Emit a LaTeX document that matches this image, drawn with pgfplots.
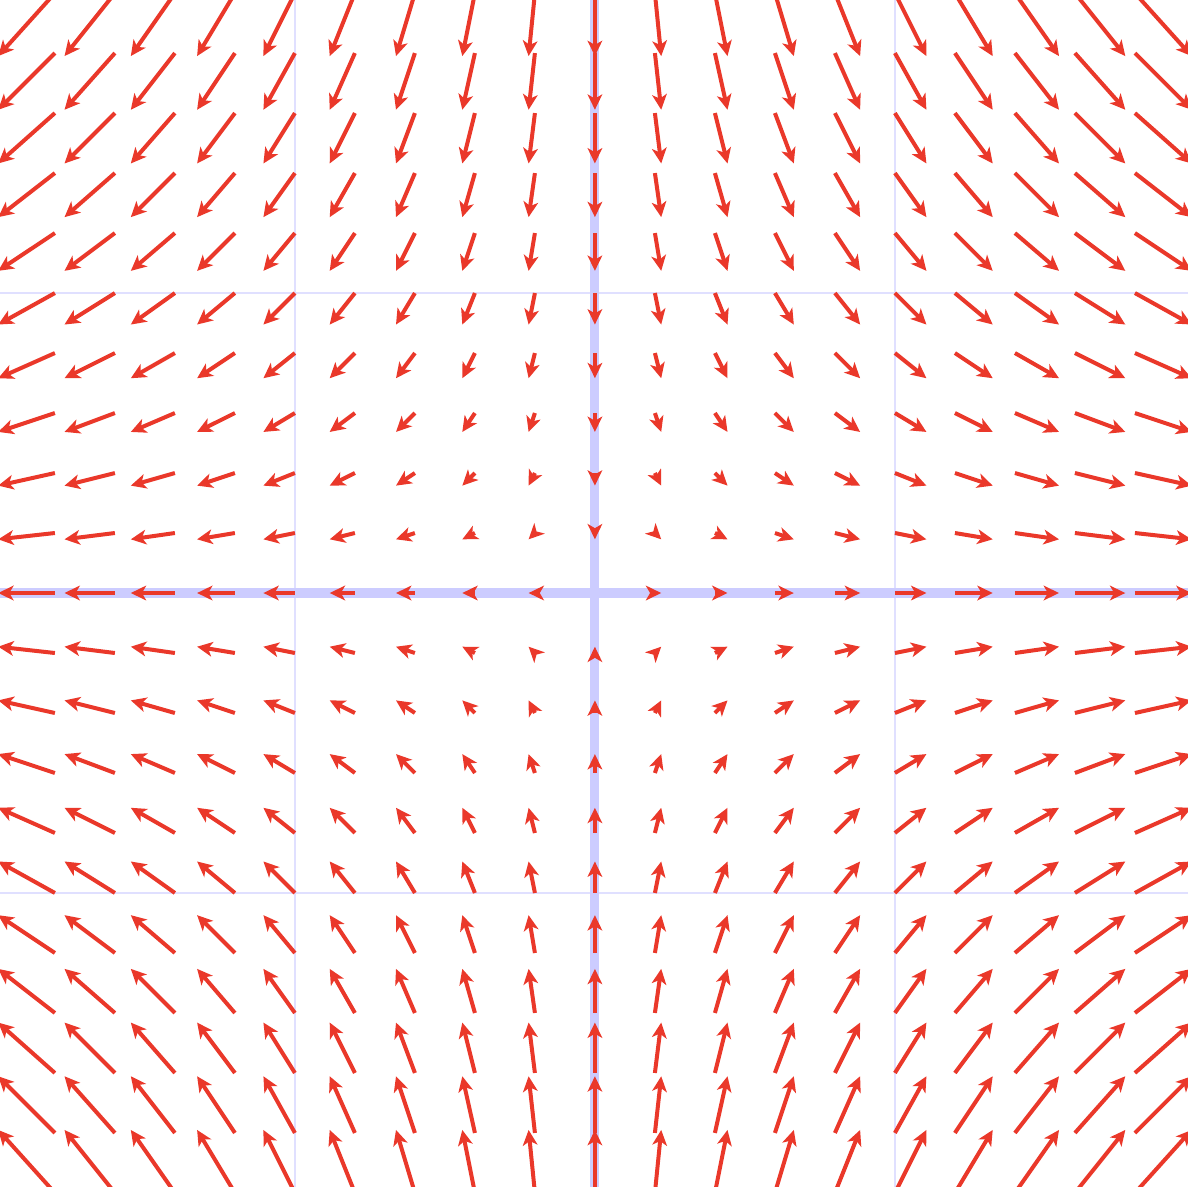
\documentclass[border=0pt]{standalone}
\usepackage{pgfplots}
\pgfplotsset{compat=1.18}
\usetikzlibrary{arrows.meta}
\definecolor{arrowred}{RGB}{234,56,42}
\definecolor{thingrid}{RGB}{224,224,255}
\definecolor{axisblue}{RGB}{204,204,255}
\begin{document}
\begin{tikzpicture}
\begin{axis}[
  scale only axis,
  width=12cm, height=11.98cm,
  xmin=-1.983, xmax=1.977, ymin=-1.977, ymax=1.977,
  xtick=\empty, ytick=\empty,
  axis line style={draw=none},
  clip=true,
]
\draw[thingrid, line width=0.6pt] (axis cs:-1,-3) -- (axis cs:-1,3);
\draw[thingrid, line width=0.6pt] (axis cs:1,-3) -- (axis cs:1,3);
\draw[thingrid, line width=0.6pt] (axis cs:-3,-1) -- (axis cs:3,-1);
\draw[thingrid, line width=0.6pt] (axis cs:-3,1) -- (axis cs:3,1);
\draw[axisblue, line width=2.6pt] (axis cs:0,-3) -- (axis cs:0,3);
\draw[axisblue, line width=2.6pt] (axis cs:-3,0) -- (axis cs:3,0);
\addplot[arrowred, line width=1.15pt, mark=none,
  quiver={u=\thisrow{u}, v=\thisrow{v}, scale arrows=0.105,
    every arrow/.append style={-{Stealth[length=4.4pt,width=4.2pt,inset=1.2pt]}}}]
  table[x=x, y=y, row sep=\\] {
x y u v\\
-2 2 -2 -2\\ -1.8 2 -1.8 -2\\ -1.6 2 -1.6 -2\\ -1.4 2 -1.4 -2\\ -1.2 2 -1.2 -2\\ -1 2 -1 -2\\ -0.8 2 -0.8 -2\\ -0.6 2 -0.6 -2\\ -0.4 2 -0.4 -2\\ -0.2 2 -0.2 -2\\ 0 2 0 -2\\ 0.2 2 0.2 -2\\ 0.4 2 0.4 -2\\ 0.6 2 0.6 -2\\ 0.8 2 0.8 -2\\ 1 2 1 -2\\ 1.2 2 1.2 -2\\ 1.4 2 1.4 -2\\ 1.6 2 1.6 -2\\ 1.8 2 1.8 -2\\ 2 2 2 -2\\
-2 1.8 -2 -1.8\\ -1.8 1.8 -1.8 -1.8\\ -1.6 1.8 -1.6 -1.8\\ -1.4 1.8 -1.4 -1.8\\ -1.2 1.8 -1.2 -1.8\\ -1 1.8 -1 -1.8\\ -0.8 1.8 -0.8 -1.8\\ -0.6 1.8 -0.6 -1.8\\ -0.4 1.8 -0.4 -1.8\\ -0.2 1.8 -0.2 -1.8\\ 0 1.8 0 -1.8\\ 0.2 1.8 0.2 -1.8\\ 0.4 1.8 0.4 -1.8\\ 0.6 1.8 0.6 -1.8\\ 0.8 1.8 0.8 -1.8\\ 1 1.8 1 -1.8\\ 1.2 1.8 1.2 -1.8\\ 1.4 1.8 1.4 -1.8\\ 1.6 1.8 1.6 -1.8\\ 1.8 1.8 1.8 -1.8\\ 2 1.8 2 -1.8\\
-2 1.6 -2 -1.6\\ -1.8 1.6 -1.8 -1.6\\ -1.6 1.6 -1.6 -1.6\\ -1.4 1.6 -1.4 -1.6\\ -1.2 1.6 -1.2 -1.6\\ -1 1.6 -1 -1.6\\ -0.8 1.6 -0.8 -1.6\\ -0.6 1.6 -0.6 -1.6\\ -0.4 1.6 -0.4 -1.6\\ -0.2 1.6 -0.2 -1.6\\ 0 1.6 0 -1.6\\ 0.2 1.6 0.2 -1.6\\ 0.4 1.6 0.4 -1.6\\ 0.6 1.6 0.6 -1.6\\ 0.8 1.6 0.8 -1.6\\ 1 1.6 1 -1.6\\ 1.2 1.6 1.2 -1.6\\ 1.4 1.6 1.4 -1.6\\ 1.6 1.6 1.6 -1.6\\ 1.8 1.6 1.8 -1.6\\ 2 1.6 2 -1.6\\
-2 1.4 -2 -1.4\\ -1.8 1.4 -1.8 -1.4\\ -1.6 1.4 -1.6 -1.4\\ -1.4 1.4 -1.4 -1.4\\ -1.2 1.4 -1.2 -1.4\\ -1 1.4 -1 -1.4\\ -0.8 1.4 -0.8 -1.4\\ -0.6 1.4 -0.6 -1.4\\ -0.4 1.4 -0.4 -1.4\\ -0.2 1.4 -0.2 -1.4\\ 0 1.4 0 -1.4\\ 0.2 1.4 0.2 -1.4\\ 0.4 1.4 0.4 -1.4\\ 0.6 1.4 0.6 -1.4\\ 0.8 1.4 0.8 -1.4\\ 1 1.4 1 -1.4\\ 1.2 1.4 1.2 -1.4\\ 1.4 1.4 1.4 -1.4\\ 1.6 1.4 1.6 -1.4\\ 1.8 1.4 1.8 -1.4\\ 2 1.4 2 -1.4\\
-2 1.2 -2 -1.2\\ -1.8 1.2 -1.8 -1.2\\ -1.6 1.2 -1.6 -1.2\\ -1.4 1.2 -1.4 -1.2\\ -1.2 1.2 -1.2 -1.2\\ -1 1.2 -1 -1.2\\ -0.8 1.2 -0.8 -1.2\\ -0.6 1.2 -0.6 -1.2\\ -0.4 1.2 -0.4 -1.2\\ -0.2 1.2 -0.2 -1.2\\ 0 1.2 0 -1.2\\ 0.2 1.2 0.2 -1.2\\ 0.4 1.2 0.4 -1.2\\ 0.6 1.2 0.6 -1.2\\ 0.8 1.2 0.8 -1.2\\ 1 1.2 1 -1.2\\ 1.2 1.2 1.2 -1.2\\ 1.4 1.2 1.4 -1.2\\ 1.6 1.2 1.6 -1.2\\ 1.8 1.2 1.8 -1.2\\ 2 1.2 2 -1.2\\
-2 1 -2 -1\\ -1.8 1 -1.8 -1\\ -1.6 1 -1.6 -1\\ -1.4 1 -1.4 -1\\ -1.2 1 -1.2 -1\\ -1 1 -1 -1\\ -0.8 1 -0.8 -1\\ -0.6 1 -0.6 -1\\ -0.4 1 -0.4 -1\\ -0.2 1 -0.2 -1\\ 0 1 0 -1\\ 0.2 1 0.2 -1\\ 0.4 1 0.4 -1\\ 0.6 1 0.6 -1\\ 0.8 1 0.8 -1\\ 1 1 1 -1\\ 1.2 1 1.2 -1\\ 1.4 1 1.4 -1\\ 1.6 1 1.6 -1\\ 1.8 1 1.8 -1\\ 2 1 2 -1\\
-2 0.8 -2 -0.8\\ -1.8 0.8 -1.8 -0.8\\ -1.6 0.8 -1.6 -0.8\\ -1.4 0.8 -1.4 -0.8\\ -1.2 0.8 -1.2 -0.8\\ -1 0.8 -1 -0.8\\ -0.8 0.8 -0.8 -0.8\\ -0.6 0.8 -0.6 -0.8\\ -0.4 0.8 -0.4 -0.8\\ -0.2 0.8 -0.2 -0.8\\ 0 0.8 0 -0.8\\ 0.2 0.8 0.2 -0.8\\ 0.4 0.8 0.4 -0.8\\ 0.6 0.8 0.6 -0.8\\ 0.8 0.8 0.8 -0.8\\ 1 0.8 1 -0.8\\ 1.2 0.8 1.2 -0.8\\ 1.4 0.8 1.4 -0.8\\ 1.6 0.8 1.6 -0.8\\ 1.8 0.8 1.8 -0.8\\ 2 0.8 2 -0.8\\
-2 0.6 -2 -0.6\\ -1.8 0.6 -1.8 -0.6\\ -1.6 0.6 -1.6 -0.6\\ -1.4 0.6 -1.4 -0.6\\ -1.2 0.6 -1.2 -0.6\\ -1 0.6 -1 -0.6\\ -0.8 0.6 -0.8 -0.6\\ -0.6 0.6 -0.6 -0.6\\ -0.4 0.6 -0.4 -0.6\\ -0.2 0.6 -0.2 -0.6\\ 0 0.6 0 -0.6\\ 0.2 0.6 0.2 -0.6\\ 0.4 0.6 0.4 -0.6\\ 0.6 0.6 0.6 -0.6\\ 0.8 0.6 0.8 -0.6\\ 1 0.6 1 -0.6\\ 1.2 0.6 1.2 -0.6\\ 1.4 0.6 1.4 -0.6\\ 1.6 0.6 1.6 -0.6\\ 1.8 0.6 1.8 -0.6\\ 2 0.6 2 -0.6\\
-2 0.4 -2 -0.4\\ -1.8 0.4 -1.8 -0.4\\ -1.6 0.4 -1.6 -0.4\\ -1.4 0.4 -1.4 -0.4\\ -1.2 0.4 -1.2 -0.4\\ -1 0.4 -1 -0.4\\ -0.8 0.4 -0.8 -0.4\\ -0.6 0.4 -0.6 -0.4\\ -0.4 0.4 -0.4 -0.4\\ -0.2 0.4 -0.2 -0.4\\ 0 0.4 0 -0.4\\ 0.2 0.4 0.2 -0.4\\ 0.4 0.4 0.4 -0.4\\ 0.6 0.4 0.6 -0.4\\ 0.8 0.4 0.8 -0.4\\ 1 0.4 1 -0.4\\ 1.2 0.4 1.2 -0.4\\ 1.4 0.4 1.4 -0.4\\ 1.6 0.4 1.6 -0.4\\ 1.8 0.4 1.8 -0.4\\ 2 0.4 2 -0.4\\
-2 0.2 -2 -0.2\\ -1.8 0.2 -1.8 -0.2\\ -1.6 0.2 -1.6 -0.2\\ -1.4 0.2 -1.4 -0.2\\ -1.2 0.2 -1.2 -0.2\\ -1 0.2 -1 -0.2\\ -0.8 0.2 -0.8 -0.2\\ -0.6 0.2 -0.6 -0.2\\ -0.4 0.2 -0.4 -0.2\\ -0.2 0.2 -0.2 -0.2\\ 0 0.2 0 -0.2\\ 0.2 0.2 0.2 -0.2\\ 0.4 0.2 0.4 -0.2\\ 0.6 0.2 0.6 -0.2\\ 0.8 0.2 0.8 -0.2\\ 1 0.2 1 -0.2\\ 1.2 0.2 1.2 -0.2\\ 1.4 0.2 1.4 -0.2\\ 1.6 0.2 1.6 -0.2\\ 1.8 0.2 1.8 -0.2\\ 2 0.2 2 -0.2\\
-2 0 -2 0\\ -1.8 0 -1.8 0\\ -1.6 0 -1.6 0\\ -1.4 0 -1.4 0\\ -1.2 0 -1.2 0\\ -1 0 -1 0\\ -0.8 0 -0.8 0\\ -0.6 0 -0.6 0\\ -0.4 0 -0.4 0\\ -0.2 0 -0.2 0\\ 0.2 0 0.2 0\\ 0.4 0 0.4 0\\ 0.6 0 0.6 0\\ 0.8 0 0.8 0\\ 1 0 1 0\\ 1.2 0 1.2 0\\ 1.4 0 1.4 0\\ 1.6 0 1.6 0\\ 1.8 0 1.8 0\\ 2 0 2 0\\
-2 -0.2 -2 0.2\\ -1.8 -0.2 -1.8 0.2\\ -1.6 -0.2 -1.6 0.2\\ -1.4 -0.2 -1.4 0.2\\ -1.2 -0.2 -1.2 0.2\\ -1 -0.2 -1 0.2\\ -0.8 -0.2 -0.8 0.2\\ -0.6 -0.2 -0.6 0.2\\ -0.4 -0.2 -0.4 0.2\\ -0.2 -0.2 -0.2 0.2\\ 0 -0.2 0 0.2\\ 0.2 -0.2 0.2 0.2\\ 0.4 -0.2 0.4 0.2\\ 0.6 -0.2 0.6 0.2\\ 0.8 -0.2 0.8 0.2\\ 1 -0.2 1 0.2\\ 1.2 -0.2 1.2 0.2\\ 1.4 -0.2 1.4 0.2\\ 1.6 -0.2 1.6 0.2\\ 1.8 -0.2 1.8 0.2\\ 2 -0.2 2 0.2\\
-2 -0.4 -2 0.4\\ -1.8 -0.4 -1.8 0.4\\ -1.6 -0.4 -1.6 0.4\\ -1.4 -0.4 -1.4 0.4\\ -1.2 -0.4 -1.2 0.4\\ -1 -0.4 -1 0.4\\ -0.8 -0.4 -0.8 0.4\\ -0.6 -0.4 -0.6 0.4\\ -0.4 -0.4 -0.4 0.4\\ -0.2 -0.4 -0.2 0.4\\ 0 -0.4 0 0.4\\ 0.2 -0.4 0.2 0.4\\ 0.4 -0.4 0.4 0.4\\ 0.6 -0.4 0.6 0.4\\ 0.8 -0.4 0.8 0.4\\ 1 -0.4 1 0.4\\ 1.2 -0.4 1.2 0.4\\ 1.4 -0.4 1.4 0.4\\ 1.6 -0.4 1.6 0.4\\ 1.8 -0.4 1.8 0.4\\ 2 -0.4 2 0.4\\
-2 -0.6 -2 0.6\\ -1.8 -0.6 -1.8 0.6\\ -1.6 -0.6 -1.6 0.6\\ -1.4 -0.6 -1.4 0.6\\ -1.2 -0.6 -1.2 0.6\\ -1 -0.6 -1 0.6\\ -0.8 -0.6 -0.8 0.6\\ -0.6 -0.6 -0.6 0.6\\ -0.4 -0.6 -0.4 0.6\\ -0.2 -0.6 -0.2 0.6\\ 0 -0.6 0 0.6\\ 0.2 -0.6 0.2 0.6\\ 0.4 -0.6 0.4 0.6\\ 0.6 -0.6 0.6 0.6\\ 0.8 -0.6 0.8 0.6\\ 1 -0.6 1 0.6\\ 1.2 -0.6 1.2 0.6\\ 1.4 -0.6 1.4 0.6\\ 1.6 -0.6 1.6 0.6\\ 1.8 -0.6 1.8 0.6\\ 2 -0.6 2 0.6\\
-2 -0.8 -2 0.8\\ -1.8 -0.8 -1.8 0.8\\ -1.6 -0.8 -1.6 0.8\\ -1.4 -0.8 -1.4 0.8\\ -1.2 -0.8 -1.2 0.8\\ -1 -0.8 -1 0.8\\ -0.8 -0.8 -0.8 0.8\\ -0.6 -0.8 -0.6 0.8\\ -0.4 -0.8 -0.4 0.8\\ -0.2 -0.8 -0.2 0.8\\ 0 -0.8 0 0.8\\ 0.2 -0.8 0.2 0.8\\ 0.4 -0.8 0.4 0.8\\ 0.6 -0.8 0.6 0.8\\ 0.8 -0.8 0.8 0.8\\ 1 -0.8 1 0.8\\ 1.2 -0.8 1.2 0.8\\ 1.4 -0.8 1.4 0.8\\ 1.6 -0.8 1.6 0.8\\ 1.8 -0.8 1.8 0.8\\ 2 -0.8 2 0.8\\
-2 -1 -2 1\\ -1.8 -1 -1.8 1\\ -1.6 -1 -1.6 1\\ -1.4 -1 -1.4 1\\ -1.2 -1 -1.2 1\\ -1 -1 -1 1\\ -0.8 -1 -0.8 1\\ -0.6 -1 -0.6 1\\ -0.4 -1 -0.4 1\\ -0.2 -1 -0.2 1\\ 0 -1 0 1\\ 0.2 -1 0.2 1\\ 0.4 -1 0.4 1\\ 0.6 -1 0.6 1\\ 0.8 -1 0.8 1\\ 1 -1 1 1\\ 1.2 -1 1.2 1\\ 1.4 -1 1.4 1\\ 1.6 -1 1.6 1\\ 1.8 -1 1.8 1\\ 2 -1 2 1\\
-2 -1.2 -2 1.2\\ -1.8 -1.2 -1.8 1.2\\ -1.6 -1.2 -1.6 1.2\\ -1.4 -1.2 -1.4 1.2\\ -1.2 -1.2 -1.2 1.2\\ -1 -1.2 -1 1.2\\ -0.8 -1.2 -0.8 1.2\\ -0.6 -1.2 -0.6 1.2\\ -0.4 -1.2 -0.4 1.2\\ -0.2 -1.2 -0.2 1.2\\ 0 -1.2 0 1.2\\ 0.2 -1.2 0.2 1.2\\ 0.4 -1.2 0.4 1.2\\ 0.6 -1.2 0.6 1.2\\ 0.8 -1.2 0.8 1.2\\ 1 -1.2 1 1.2\\ 1.2 -1.2 1.2 1.2\\ 1.4 -1.2 1.4 1.2\\ 1.6 -1.2 1.6 1.2\\ 1.8 -1.2 1.8 1.2\\ 2 -1.2 2 1.2\\
-2 -1.4 -2 1.4\\ -1.8 -1.4 -1.8 1.4\\ -1.6 -1.4 -1.6 1.4\\ -1.4 -1.4 -1.4 1.4\\ -1.2 -1.4 -1.2 1.4\\ -1 -1.4 -1 1.4\\ -0.8 -1.4 -0.8 1.4\\ -0.6 -1.4 -0.6 1.4\\ -0.4 -1.4 -0.4 1.4\\ -0.2 -1.4 -0.2 1.4\\ 0 -1.4 0 1.4\\ 0.2 -1.4 0.2 1.4\\ 0.4 -1.4 0.4 1.4\\ 0.6 -1.4 0.6 1.4\\ 0.8 -1.4 0.8 1.4\\ 1 -1.4 1 1.4\\ 1.2 -1.4 1.2 1.4\\ 1.4 -1.4 1.4 1.4\\ 1.6 -1.4 1.6 1.4\\ 1.8 -1.4 1.8 1.4\\ 2 -1.4 2 1.4\\
-2 -1.6 -2 1.6\\ -1.8 -1.6 -1.8 1.6\\ -1.6 -1.6 -1.6 1.6\\ -1.4 -1.6 -1.4 1.6\\ -1.2 -1.6 -1.2 1.6\\ -1 -1.6 -1 1.6\\ -0.8 -1.6 -0.8 1.6\\ -0.6 -1.6 -0.6 1.6\\ -0.4 -1.6 -0.4 1.6\\ -0.2 -1.6 -0.2 1.6\\ 0 -1.6 0 1.6\\ 0.2 -1.6 0.2 1.6\\ 0.4 -1.6 0.4 1.6\\ 0.6 -1.6 0.6 1.6\\ 0.8 -1.6 0.8 1.6\\ 1 -1.6 1 1.6\\ 1.2 -1.6 1.2 1.6\\ 1.4 -1.6 1.4 1.6\\ 1.6 -1.6 1.6 1.6\\ 1.8 -1.6 1.8 1.6\\ 2 -1.6 2 1.6\\
-2 -1.8 -2 1.8\\ -1.8 -1.8 -1.8 1.8\\ -1.6 -1.8 -1.6 1.8\\ -1.4 -1.8 -1.4 1.8\\ -1.2 -1.8 -1.2 1.8\\ -1 -1.8 -1 1.8\\ -0.8 -1.8 -0.8 1.8\\ -0.6 -1.8 -0.6 1.8\\ -0.4 -1.8 -0.4 1.8\\ -0.2 -1.8 -0.2 1.8\\ 0 -1.8 0 1.8\\ 0.2 -1.8 0.2 1.8\\ 0.4 -1.8 0.4 1.8\\ 0.6 -1.8 0.6 1.8\\ 0.8 -1.8 0.8 1.8\\ 1 -1.8 1 1.8\\ 1.2 -1.8 1.2 1.8\\ 1.4 -1.8 1.4 1.8\\ 1.6 -1.8 1.6 1.8\\ 1.8 -1.8 1.8 1.8\\ 2 -1.8 2 1.8\\
-2 -2 -2 2\\ -1.8 -2 -1.8 2\\ -1.6 -2 -1.6 2\\ -1.4 -2 -1.4 2\\ -1.2 -2 -1.2 2\\ -1 -2 -1 2\\ -0.8 -2 -0.8 2\\ -0.6 -2 -0.6 2\\ -0.4 -2 -0.4 2\\ -0.2 -2 -0.2 2\\ 0 -2 0 2\\ 0.2 -2 0.2 2\\ 0.4 -2 0.4 2\\ 0.6 -2 0.6 2\\ 0.8 -2 0.8 2\\ 1 -2 1 2\\ 1.2 -2 1.2 2\\ 1.4 -2 1.4 2\\ 1.6 -2 1.6 2\\ 1.8 -2 1.8 2\\ 2 -2 2 2\\
};
\end{axis}
\pgfresetboundingbox
\path (current axis.south west) rectangle (current axis.north east);
\end{tikzpicture}
\end{document}
